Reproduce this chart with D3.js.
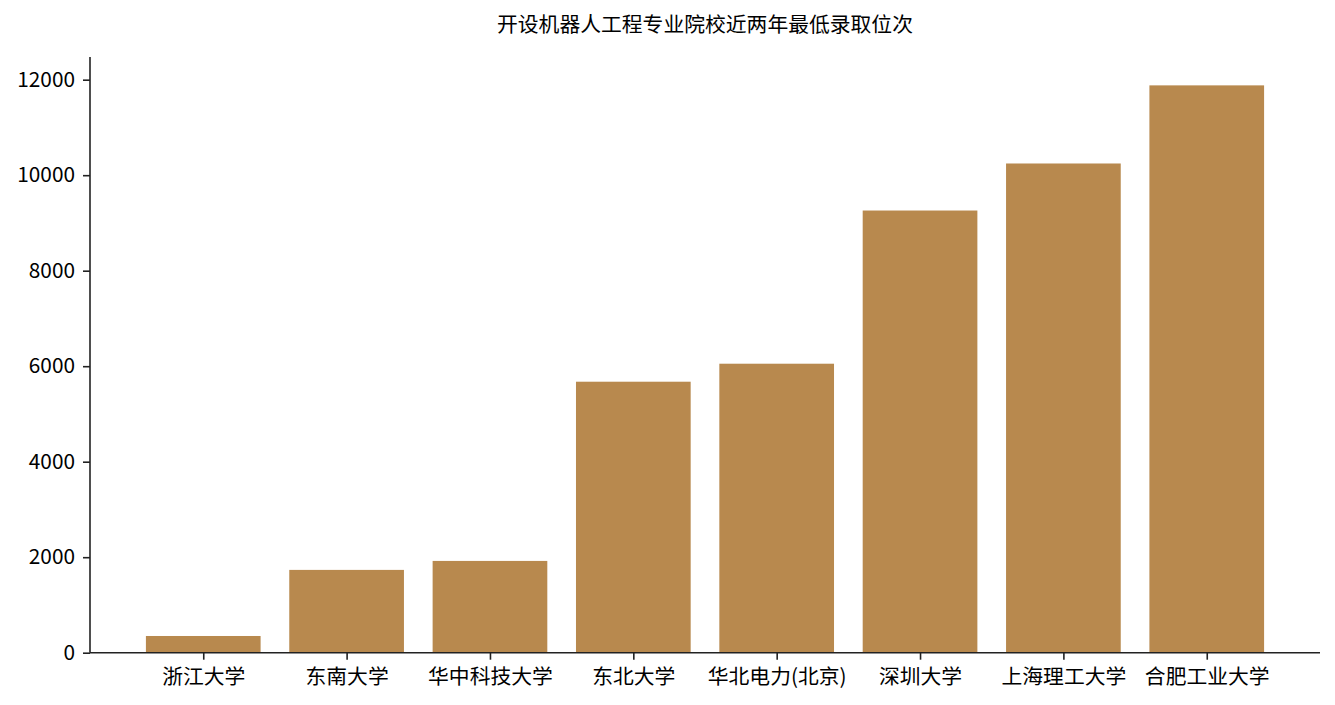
<!DOCTYPE html>
<html>
<head>
<meta charset="utf-8">
<script src="https://cdn.jsdelivr.net/npm/d3@7"></script>
<style>
  html, body { margin: 0; padding: 0; background: #fff; }
  text { font-family: "Noto Sans CJK SC", "Noto Sans", sans-serif; fill: #000; }
</style>
</head>
<body>
<svg id="chart" width="1335" height="705"></svg>
<script>
// Schools and their lowest admission rank over the last two years
const schools = ["浙江大学", "东南大学", "华中科技大学", "东北大学", "华北电力(北京)", "深圳大学", "上海理工大学", "合肥工业大学"];
const minRank = [350, 1734, 1922, 5675, 6052, 9260, 10245, 11881];
const yTicks = [0, 2000, 4000, 6000, 8000, 10000, 12000];
const title = "开设机器人工程专业院校近两年最低录取位次";

const svg = d3.select("#chart");
const plot = { left: 90, right: 1320, top: 57, bottom: 652.7 };
const barColor = "#b8894e";
const fontSize = "20.8px";

// Category axis with 0.8-wide bars and 5% side margins
const n = schools.length;
const span = (n - 1) + 0.8;
const lo = -0.4 - 0.05 * span, hi = (n - 1) + 0.4 + 0.05 * span;
const x = d3.scaleLinear().domain([lo, hi]).range([plot.left, plot.right]);
const y = d3.scaleLinear().domain([0, d3.max(minRank) * 1.05]).range([plot.bottom, plot.top]);

svg.append("g")
  .selectAll("rect")
  .data(minRank)
  .join("rect")
  .attr("x", (d, i) => x(i - 0.4))
  .attr("width", (d, i) => x(i + 0.4) - x(i - 0.4))
  .attr("y", d => y(d))
  .attr("height", d => y(0) - y(d))
  .attr("fill", barColor);

// Y axis
const yAxis = d3.axisLeft(y).tickValues(yTicks).tickFormat(d3.format("d")).tickSize(7).tickPadding(8);
const gy = svg.append("g").attr("transform", `translate(${plot.left},0)`).call(yAxis);
gy.select(".domain").attr("d", `M0,${plot.top}V${plot.bottom}`);

// X axis
const xAxis = d3.axisBottom(x).tickValues(d3.range(n)).tickFormat(i => schools[i]).tickSize(7).tickPadding(10);
const gx = svg.append("g").attr("transform", `translate(0,${plot.bottom})`).call(xAxis);
gx.select(".domain").attr("d", `M${plot.left},0H${plot.right}`);

svg.selectAll(".domain, .tick line").attr("stroke", "#222").attr("stroke-width", 1.6);
svg.selectAll(".tick text").style("font-size", fontSize).attr("fill", "#000");

svg.append("text")
  .attr("x", (plot.left + plot.right) / 2)
  .attr("y", 32)
  .attr("text-anchor", "middle")
  .style("font-size", fontSize)
  .text(title);
</script>
</body>
</html>
